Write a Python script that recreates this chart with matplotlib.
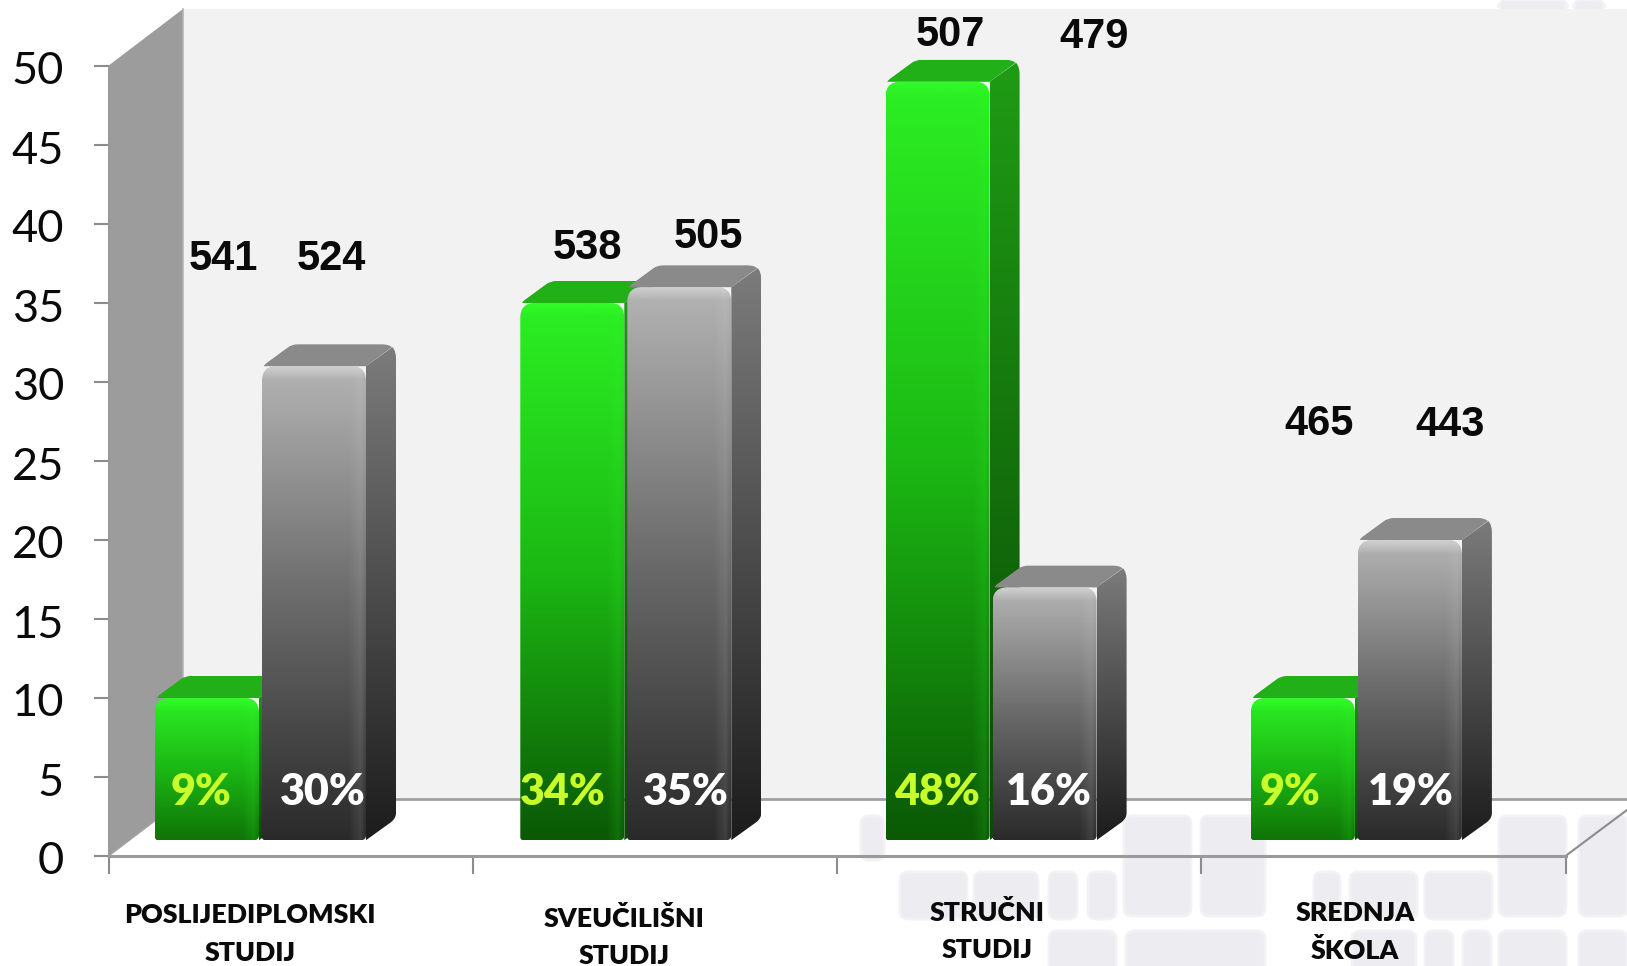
import matplotlib
matplotlib.use('Agg')
import matplotlib.pyplot as plt
import numpy as np
from matplotlib.patches import FancyBboxPatch, PathPatch, Polygon
from matplotlib.path import Path
from matplotlib.colors import LinearSegmentedColormap, to_rgb
from matplotlib.transforms import ScaledTranslation

# data
categories = ['POSLIJEDIPLOMSKI\nSTUDIJ', 'SVEUČILIŠNI\nSTUDIJ', 'STRUČNI\nSTUDIJ', 'SREDNJA\nŠKOLA']
green_values = [9, 34, 48, 9]
gray_values = [30, 35, 16, 19]
green_counts = ['541', '538', '507', '465']
gray_counts = ['524', '505', '479', '443']
y_ticks = [0, 5, 10, 15, 20, 25, 30, 35, 40, 45, 50]

# label anchors in image pixels (the source places these by hand)
green_count_xy = [(223, 259), (587, 248), (950, 35), (1319, 424)]
gray_count_xy = [(331, 259), (708, 237), (1094, 37), (1450, 425)]
pct_y = 792
green_pct_x = [201, 563, 937, 1290]
gray_pct_x = [323, 686, 1049, 1411]
cat_xy = [(250, 934), (624, 937), (987, 931), (1355, 932)]

W, H = 1627, 966
X0, X1, Y0, Y50 = 108.5, 1565.5, 856, 66
CAT_PX = (X1 - X0) / 4
UNIT_PX = (Y0 - Y50) / 50
ux = 1 / CAT_PX
uy = 1 / UNIT_PX

fig = plt.figure(figsize=(W / 100, H / 100), dpi=100, facecolor='white')
bg = fig.add_axes([0, 0, 1, 1], zorder=0)
bg.set_xlim(0, W)
bg.set_ylim(H, 0)
bg.axis('off')

# faint tile pattern behind the chart
tiles = [(1499, 0, 68, 12), (1574, 0, 30, 12),
         (861, 816, 23, 44), (1124, 816, 67, 100), (1201, 816, 64, 100),
         (1499, 816, 67, 100), (1579, 816, 48, 100),
         (900, 872, 67, 47), (974, 872, 64, 47), (1049, 872, 28, 47), (1088, 872, 28, 47),
         (1314, 872, 26, 47), (1350, 872, 67, 47), (1425, 872, 67, 47),
         (1049, 931, 67, 102), (1126, 931, 139, 60), (1352, 931, 64, 102),
         (1425, 931, 28, 44), (1463, 931, 28, 44), (1463, 991, 28, 40),
         (1499, 931, 67, 102), (1579, 931, 48, 102)]
for tx, ty, tw, th in tiles:
    bg.add_patch(FancyBboxPatch((tx, ty), tw, th, boxstyle='round,pad=0,rounding_size=8',
                                fc='#ececf1', ec='#f2f2f5', lw=2))

# walls
bg.add_patch(Polygon([(183, 9), (W, 9), (W, 799), (183, 799)], fc='#f2f2f2', ec='none'))
bg.add_patch(Polygon([(108, 66), (183, 9), (183, 799), (108, 856)], fc='#9c9c9c', ec='none'))
bg.plot([183, 183], [9, 799], color='#b4b4b4', lw=1.2)
bg.plot([183, W], [799, 799], color='#a0a0a0', lw=2)
bg.plot([108, 183], [856, 799], color='#a0a0a0', lw=1.5)
bg.plot([X1, W], [856, 810], color='#8c8c8c', lw=1.5)

ax = fig.add_axes([X0 / W, 1 - Y0 / H, (X1 - X0) / W, (Y0 - Y50) / H], zorder=1)
ax.patch.set_alpha(0)
ax.set_xlim(0, 4)
ax.set_ylim(0, 50)
for s in ['top', 'right']:
    ax.spines[s].set_visible(False)
ax.spines['left'].set_color('#9a9a9a')
ax.spines['left'].set_linewidth(2)
ax.spines['bottom'].set_color('#9a9a9a')
ax.spines['bottom'].set_linewidth(2.2)
ax.set_yticks(y_ticks)
ax.set_xticks(range(5))
ax.set_xticklabels([])
ax.tick_params(axis='y', length=11, width=1.5, color='#8c8c8c', pad=21, labelsize=32.5)
ax.tick_params(axis='x', length=13, width=1.5, color='#8c8c8c')
for t in ax.get_yticklabels():
    t.set_fontfamily('Lato')
    t.set_color('#0a0a0a')
    t.set_transform(t.get_transform() + ScaledTranslation(0, -2 / 100, fig.dpi_scale_trans))


def mix(a, b, f):
    a, b = np.array(to_rgb(a)), np.array(to_rgb(b))
    return tuple(a + (b - a) * f)


def rounded(pts, radii):
    # closed path through pts in data units, corners rounded by radii in pixels
    verts, codes = [], []
    n = len(pts)
    scale = np.array([CAT_PX, UNIT_PX])
    for i in range(n):
        p = np.array(pts[i])
        prev = np.array(pts[i - 1])
        nxt = np.array(pts[(i + 1) % n])
        d1 = (prev - p) * scale
        d2 = (nxt - p) * scale
        a = p + (d1 / np.linalg.norm(d1)) * radii[i] / scale
        b = p + (d2 / np.linalg.norm(d2)) * radii[i] / scale
        verts.append(tuple(a))
        codes.append(Path.MOVETO if i == 0 else Path.LINETO)
        verts += [tuple(p), tuple(b)]
        codes += [Path.CURVE3, Path.CURVE3]
    verts.append(verts[0])
    codes.append(Path.CLOSEPOLY)
    return Path(verts, codes)


BASE = 1.0                # bar feet sit one unit up the floor
OFFSET = 46.5 * ux        # gap from category start to the first bar
PITCH = 365.3 * ux        # groups run a hair wider than the tick spacing
BAR_W = 104 * ux
STEP = 107 * ux
DX = 30 * ux
DY = 22 * uy
CORNER = 14               # outer corner radius, px


def clipper(path):
    patch = PathPatch(path, fc='none', ec='none', clip_on=False)
    ax.add_patch(patch)
    return patch


def clip_to(artist, patch):
    # the tallest bar pokes above the axes, so drop the axes box and keep only the shape
    artist.set_clip_on(True)
    artist.set_clip_path(patch)
    artist.set_clip_box(fig.bbox)


def draw_bar(x, v, kind, z):
    x1 = x + BAR_W
    top = BASE + v
    if kind == 'green':
        low = mix('#118008', '#0b5805', min(v / 30, 1))
        face = ['#2cf024', '#1cb814', low]
        side = ['#1f9c15', '#0a4a04']
        cap = '#22b018'
        rim = '#33ff2a'
        band = 0.14
    else:
        face = ['#b4b4b4', '#6a6a6a', '#2a2a2a']
        side = ['#7c7c7c', '#1c1c1c']
        cap = '#8a8a8a'
        rim = '#d8d8d8'
        band = 0.12
    # cap and side share one rounded outer corner
    shape = clipper(rounded([(x, top), (x + DX, top + DY), (x1 + DX, top + DY),
                             (x1 + DX, BASE + DY), (x1, BASE)], [6, 6, CORNER, 5, 3]))
    cap_face = Polygon([(x, top), (x + DX, top + DY), (x1 + DX, top + DY), (x1, top)],
                       fc=cap, ec='none', zorder=z)
    ax.add_patch(cap_face)
    clip_to(cap_face, shape)
    xr, yr = x1 + DX, top + DY
    side_path = Path([(x1, BASE),
                      (xr - 5 * ux, BASE + DY - 4 * uy),
                      (xr, BASE + DY), (xr, BASE + DY + 5 * uy),
                      (xr, yr - CORNER * uy),
                      (xr, yr - CORNER / 2 * uy), (xr - 3.5 * ux, yr - 3 * uy),
                      (x1, top), (x1, BASE)],
                     [Path.MOVETO, Path.LINETO, Path.CURVE3, Path.CURVE3, Path.LINETO,
                      Path.CURVE3, Path.CURVE3, Path.LINETO, Path.CLOSEPOLY])
    cmap = LinearSegmentedColormap.from_list('s', side)
    im = ax.imshow(np.linspace(0, 1, 256).reshape(-1, 1), cmap=cmap, aspect='auto', zorder=z + .01,
                   extent=[x1, xr, BASE, yr], origin='upper')
    clip_to(im, clipper(side_path))
    # front face with rim highlights
    front = clipper(rounded([(x, BASE), (x, top), (x1, top), (x1, BASE)], [3, 15, 15, 5]))
    cmap = LinearSegmentedColormap.from_list('f', face)
    im = ax.imshow(np.linspace(0, 1, 256).reshape(-1, 1), cmap=cmap, aspect='auto', zorder=z + .1,
                   extent=[x, x1, BASE, top], origin='upper')
    clip_to(im, front)
    rim_rgba = np.zeros((32, 1, 4))
    rim_rgba[..., :3] = to_rgb(rim)
    rim_rgba[:, 0, 3] = np.linspace(0.8, 0, 32)
    im = ax.imshow(rim_rgba, aspect='auto', zorder=z + .2, origin='upper',
                   extent=[x, x1, top - 14 * uy, top])
    clip_to(im, front)
    edge = np.zeros((1, 32, 4))
    edge[..., :3] = to_rgb(rim)
    edge[0, :, 3] = np.r_[np.linspace(0, band, 22), np.linspace(band, 0, 10)]
    im = ax.imshow(edge, aspect='auto', zorder=z + .2, origin='upper',
                   extent=[x1 - 18 * ux, x1, BASE, top])
    clip_to(im, front)


for i in range(4):
    draw_bar(OFFSET + i * PITCH, green_values[i], 'green', 3 + i)
    draw_bar(OFFSET + i * PITCH + STEP, gray_values[i], 'gray', 3.5 + i)
ax.set_xlim(0, 4)
ax.set_ylim(0, 50)

# all hand-placed labels go on a top overlay in image pixels
top_ax = fig.add_axes([0, 0, 1, 1], zorder=2)
top_ax.set_xlim(0, W)
top_ax.set_ylim(H, 0)
top_ax.axis('off')
for i in range(4):
    top_ax.text(*green_count_xy[i], green_counts[i], family='Liberation Sans', weight='bold',
                fontsize=30, ha='center', va='center', color='#0a0a0a')
    top_ax.text(*gray_count_xy[i], gray_counts[i], family='Liberation Sans', weight='bold',
                fontsize=30, ha='center', va='center', color='#0a0a0a')
    top_ax.text(green_pct_x[i], pct_y, '%d%%' % green_values[i], family='Lato', weight='heavy',
                fontsize=31, ha='center', va='center', color='#c8ff2a')
    top_ax.text(gray_pct_x[i], pct_y, '%d%%' % gray_values[i], family='Lato', weight='heavy',
                fontsize=31, ha='center', va='center', color='white')
    top_ax.text(*cat_xy[i], categories[i], family='Lato', weight='heavy', fontsize=19.3,
                ha='center', va='center', color='#0a0a0a', linespacing=1.66)

fig.savefig('out.png', dpi=100)
